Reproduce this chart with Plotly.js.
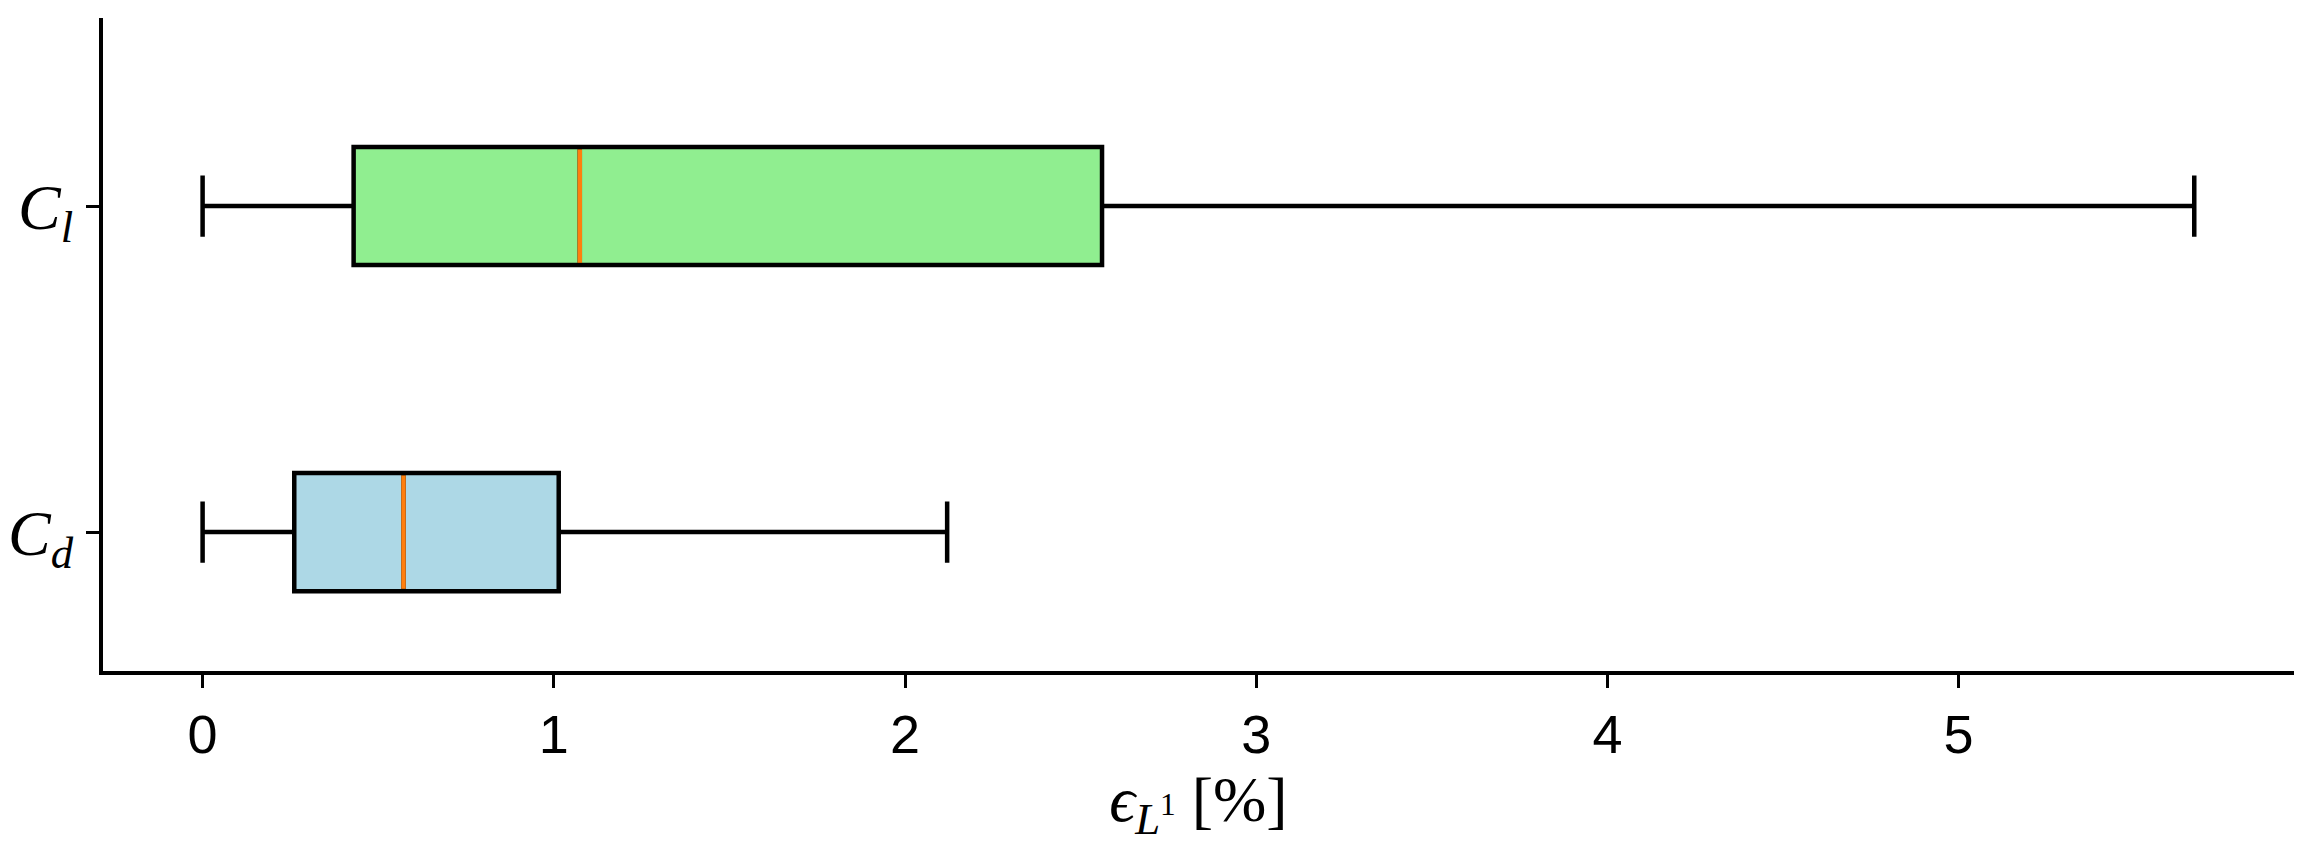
<!DOCTYPE html>
<html>
<head>
<meta charset="utf-8">
<script src="https://cdn.plot.ly/plotly-3.0.1.min.js"></script>
<style>
  html, body { margin: 0; padding: 0; background: #fff; }
  #chart { width: 2311px; height: 857px; }
</style>
</head>
<body>
<div id="chart"></div>
<script>
// box statistics (epsilon in %)
var names = ['<i>C</i><sub><i>d</i></sub>', '<i>C</i><sub><i>l</i></sub>'];
var positions = [1, 2];
var fillColors = ['#add8e6', '#90ee90'];
var lowerValues = [0.0, 0.0];
var q1Values = [0.261, 0.430];
var medianValues = [0.572, 1.074];
var q3Values = [1.014, 2.561];
var upperValues = [2.120, 5.671];
var xTicks = [0, 1, 2, 3, 4, 5];

var boxWidth = 0.362;
var data = [];

for (var i = 0; i < names.length; i++) {
	data.push({
		type: 'box',
		orientation: 'h',
		y: [positions[i]],
		q1: [q1Values[i]],
		median: [medianValues[i]],
		q3: [q3Values[i]],
		lowerfence: [lowerValues[i]],
		upperfence: [upperValues[i]],
		width: boxWidth,
		whiskerwidth: 0.52,
		boxpoints: false,
		fillcolor: fillColors[i],
		line: { color: '#000000', width: 4.5 },
		hoverinfo: 'skip',
		showlegend: false
	});
}

// orange median lines on top of the boxes
for (var j = 0; j < names.length; j++) {
	data.push({
		type: 'scatter',
		mode: 'lines',
		x: [medianValues[j], medianValues[j]],
		y: [positions[j] - boxWidth / 2 + 0.007, positions[j] + boxWidth / 2 - 0.007],
		line: { color: '#ff7f0e', width: 4.5 },
		hoverinfo: 'skip',
		showlegend: false
	});
}

var layout = {
	width: 2311,
	height: 857,
	margin: { l: 103, r: 17, t: 18, b: 186 },
	paper_bgcolor: '#ffffff',
	plot_bgcolor: '#ffffff',
	boxmode: 'overlay',
	showlegend: false,
	xaxis: {
		range: [-0.2836, 5.955],
		tickvals: xTicks,
		ticktext: xTicks.map(String),
		ticks: 'outside',
		ticklen: 13,
		tickwidth: 3,
		tickcolor: '#000000',
		showline: true,
		linecolor: '#000000',
		linewidth: 4,
		showgrid: false,
		zeroline: false,
		tickfont: { family: 'Liberation Sans, Arial, sans-serif', size: 54, color: '#000000' },
		title: {
			text: '<i>ϵ</i><sub><i>L</i><sup>1</sup></sub> [%]',
			font: { family: 'Liberation Serif, DejaVu Serif, serif', size: 64, color: '#000000' },
			standoff: 14
		}
	},
	yaxis: {
		range: [0.574, 2.577],
		tickvals: positions,
		ticktext: names,
		ticks: 'outside',
		ticklen: 13,
		tickwidth: 3,
		tickcolor: '#000000',
		showline: true,
		linecolor: '#000000',
		linewidth: 4,
		showgrid: false,
		zeroline: false,
		tickfont: { family: 'Liberation Serif, DejaVu Serif, serif', size: 64, color: '#000000' }
	}
};

Plotly.newPlot('chart', data, layout, { displayModeBar: false, staticPlot: true });
</script>
</body>
</html>
